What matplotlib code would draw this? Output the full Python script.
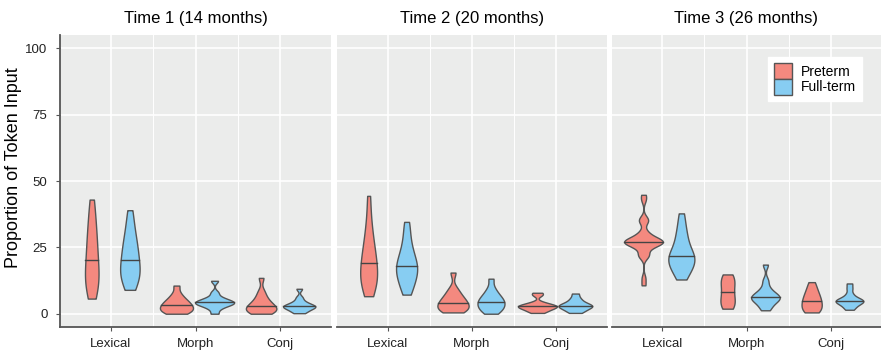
import numpy as np
import matplotlib
matplotlib.use("Agg")
import matplotlib.pyplot as plt
from matplotlib import cbook, mlab
from matplotlib.patches import Patch

plt.rcParams['font.family'] = ['Liberation Sans', 'DejaVu Sans']

titles = ["Time 1 (14 months)", "Time 2 (20 months)", "Time 3 (26 months)"]
categories = ["Lexical", "Morph", "Conj"]
groups = ["Preterm", "Full-term"]
colors = ["#F4897F", "#87CDF2"]

# estimated observations, % of token input
t1_lex_pre = [5.7, 8, 10, 11.5, 13, 14.5, 16, 18, 20.4, 22.5, 24.5, 27, 29.5, 32, 35, 39, 43]
t1_lex_full = [9, 11, 12.5, 14, 15, 16, 17, 18.5, 20.4, 22, 23.5, 25, 27, 29, 31.5, 35, 39]
t1_morph_pre = [0, 0.5, 1, 1.5, 2, 2.5, 3.1, 3.7, 4.3, 5, 6, 7.5, 10.6]
t1_morph_full = [0, 1.8, 2.8, 3.3, 3.7, 4.0, 4.3, 4.6, 5.0, 5.5, 6.3, 8, 12.4]
t1_conj_pre = [0, 0.4, 0.9, 1.4, 1.9, 2.3, 2.8, 3.4, 4.2, 5.2, 6.5, 8.5, 13.5]
t1_conj_full = [0.2, 0.9, 1.5, 2.0, 2.4, 2.6, 2.8, 3.1, 3.5, 4, 4.8, 6.2, 9.4]

t2_lex_pre = [6.6, 9, 10.5, 12, 13, 14.5, 15.5, 17, 19, 20.5, 22, 24, 26, 29, 32, 37, 44.4]
t2_lex_full = [7.2, 9.5, 11, 12.5, 14, 15, 16, 17, 17.9, 19, 20, 21.5, 23, 25, 27.5, 31, 34.6]
t2_morph_pre = [0.5, 1, 1.6, 2.2, 2.8, 3.4, 4.1, 4.8, 5.6, 6.5, 7.8, 9.5, 15.5]
t2_morph_full = [0, 1, 1.8, 2.5, 3.1, 3.8, 4.5, 5.1, 5.8, 6.6, 7.8, 9.5, 13.2]
t2_conj_pre = [0.3, 1.0, 1.5, 1.9, 2.3, 2.6, 2.8, 3.0, 3.3, 3.7, 4.3, 7.0, 7.9]
t2_conj_full = [0.3, 1.0, 1.6, 2.1, 2.5, 2.8, 3.0, 3.3, 3.7, 4.2, 5, 6, 7.6]

t3_lex_pre = [10.7, 13.5, 21.5, 22, 22.5, 24.5, 25.2, 25.8, 26.2, 26.5, 26.7, 26.9, 27.0,
              27.1, 27.3, 27.5, 27.8, 28.2, 28.6, 29.2, 30, 31.2, 34.5, 35.2, 36, 42.8, 44.8]
t3_lex_full = [12.9, 15, 16.5, 17.5, 18.5, 19.5, 20.3, 21, 21.7, 22.5, 23.5, 25, 27, 29, 31, 34, 37.8]
t3_morph_pre = [1.9, 2.5, 3.5, 4.5, 5.5, 6.8, 8.1, 9.5, 10.8, 12, 13, 14, 14.8]
t3_morph_full = [1.3, 2.8, 4, 4.8, 5.4, 5.9, 6.3, 6.8, 7.4, 8.3, 9.8, 12.5, 18.5]
t3_conj_pre = [0.5, 1, 1.5, 2.3, 3.2, 4, 4.7, 5.5, 6.4, 7.4, 8.5, 10, 11.9]
t3_conj_full = [1.5, 2.5, 3.3, 3.9, 4.3, 4.6, 4.9, 5.2, 5.6, 6.2, 7.5, 9.5, 11.4]

panels = [
    [(t1_lex_pre, t1_lex_full), (t1_morph_pre, t1_morph_full), (t1_conj_pre, t1_conj_full)],
    [(t2_lex_pre, t2_lex_full), (t2_morph_pre, t2_morph_full), (t2_conj_pre, t2_conj_full)],
    [(t3_lex_pre, t3_lex_full), (t3_morph_pre, t3_morph_full), (t3_conj_pre, t3_conj_full)],
]

# widest point of each violin, in x units (Lexical pre/full, Morph pre/full, Conj pre/full)
max_widths = [
    [0.16, 0.23, 0.39, 0.46, 0.36, 0.38],
    [0.20, 0.25, 0.37, 0.32, 0.46, 0.40],
    [0.46, 0.31, 0.17, 0.34, 0.24, 0.33],
]


def nrd0(kde):
    # R's default bandwidth, as a factor of the sd
    x = np.ravel(kde.dataset)
    sd = np.std(x, ddof=1)
    iqr = np.subtract(*np.percentile(x, [75, 25]))
    return 0.9 * min(sd, iqr / 1.34) * len(x) ** -0.2 / sd


def kde_method(X, coords):
    return mlab.GaussianKDE(X, bw_method=nrd0).evaluate(coords)


fig = plt.figure(figsize=(8.81, 3.52), dpi=100)
lefts = [60, 337, 612]
pw = [271, 270, 269]
axes = []
for i, panel in enumerate(panels):
    ax = fig.add_axes([lefts[i] / 881, 25 / 352, pw[i] / 881, 292 / 352])
    axes.append(ax)
    ax.set_facecolor("#EBECEB")

    stats, pos, cols, data = [], [], [], []
    for c, pair in enumerate(panel):
        for g, vals in enumerate(pair):
            stats.append(cbook.violin_stats([vals], kde_method, points=512)[0])
            pos.append(c + 1 + (g - 0.5) * 0.45)
            cols.append(colors[g])
            data.append(vals)
    parts = ax.violin(stats, positions=pos, widths=max_widths[i],
                      showmeans=False, showextrema=False, showmedians=False)
    for body, col in zip(parts["bodies"], cols):
        body.set_facecolor(col)
        body.set_edgecolor("#555555")
        body.set_linewidth(1.0)
        body.set_alpha(1)
        body.set_zorder(3)
    for s, p, vals, w in zip(stats, pos, data, max_widths[i]):
        med = np.median(vals)
        half = w / 2 * np.interp(med, s["coords"], s["vals"]) / s["vals"].max()
        ax.plot([p - half, p + half], [med, med], color="#444444", lw=1.0, zorder=4)

    ax.set_xlim(0.4, 3.6)
    ax.set_ylim(-5, 105)
    ax.set_xticks([1, 2, 3])
    ax.set_xticklabels(categories, fontsize=9.5, color="#222222")
    ax.set_xticks([1.5, 2.5], minor=True)
    ax.set_yticks([0, 25, 50, 75, 100])
    ax.grid(True, which="major", color="white", lw=1.2)
    ax.grid(True, which="minor", axis="x", color="white", lw=0.7)
    ax.set_axisbelow(True)
    ax.tick_params(axis="x", which="major", length=3, color="#555555", pad=5)
    ax.tick_params(axis="x", which="minor", length=0)
    for side in ["top", "right", "left"]:
        ax.spines[side].set_visible(False)
    ax.spines["bottom"].set_color("#555555")
    ax.spines["bottom"].set_linewidth(1.3)
    ax.set_title(titles[i], fontsize=12, pad=9)
    if i == 0:
        ax.spines["left"].set_visible(True)
        ax.spines["left"].set_color("#555555")
        ax.spines["left"].set_linewidth(1.3)
        ax.tick_params(axis="y", length=3, color="#555555", labelsize=9.5,
                       labelcolor="#222222", pad=6)
        ax.set_ylabel("Proportion of Token Input", fontsize=13)
        ax.yaxis.set_label_coords(-0.142, 0.546)
    else:
        ax.tick_params(axis="y", length=0, labelleft=False)

handles = [Patch(facecolor=c, edgecolor="#555555", lw=1.0, label=g) for c, g in zip(colors, groups)]
axes[2].legend(handles=handles, loc="upper right", bbox_to_anchor=(0.929, 0.925),
               fontsize=10, frameon=True, fancybox=False, edgecolor="white",
               framealpha=1, handlelength=1.3, handleheight=1.37, labelspacing=0.0,
               handletextpad=0.6, borderpad=0.45, borderaxespad=0)

fig.savefig("out.png", dpi=100)
